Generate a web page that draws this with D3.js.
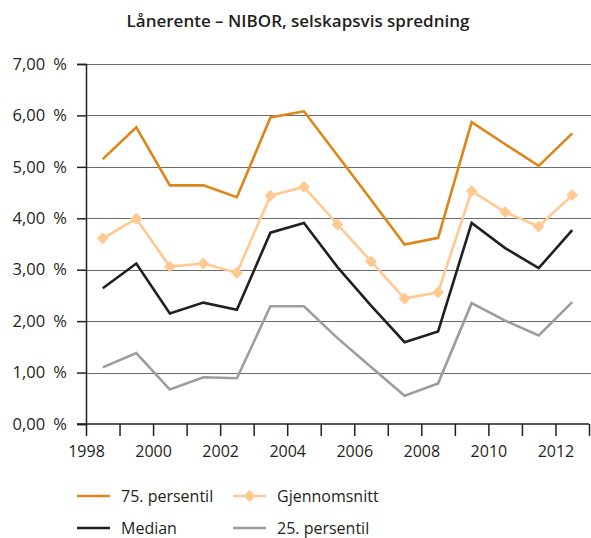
<!DOCTYPE html>
<html>
<head>
<meta charset="utf-8">
<script src="https://cdn.jsdelivr.net/npm/d3@7"></script>
<style>
  body { margin: 0; background: #fff; }
  svg { display: block; font-family: "Open Sans", sans-serif; }
</style>
</head>
<body>
<svg id="chart" width="591" height="538"></svg>
<script>
// data: one point per year, plotted in the middle of the year
const years = [1998, 1999, 2000, 2001, 2002, 2003, 2004, 2005, 2006, 2007, 2008, 2009, 2010, 2011, 2012];
const p75    = [5.15, 5.77, 4.64, 4.64, 4.41, 5.96, 6.08, 5.22, 4.36, 3.49, 3.62, 5.87, 5.44, 5.02, 5.65];
const mean   = [3.61, 3.99, 3.06, 3.12, 2.94, 4.44, 4.61, 3.88, 3.16, 2.44, 2.56, 4.53, 4.12, 3.84, 4.45];
const median = [2.64, 3.12, 2.15, 2.36, 2.22, 3.72, 3.91, 3.05, 2.30, 1.59, 1.80, 3.91, 3.42, 3.03, 3.77];
const p25    = [1.10, 1.38, 0.67, 0.91, 0.89, 2.29, 2.29, 1.67, 1.11, 0.55, 0.79, 2.35, 2.01, 1.72, 2.37];

const yTicks = [0, 1, 2, 3, 4, 5, 6, 7];
const xLabels = [1998, 2000, 2002, 2004, 2006, 2008, 2010, 2012];

const series = [
  {name: "75. persentil", values: p75,    color: "#DE8519", marker: false},
  {name: "Gjennomsnitt",  values: mean,   color: "#FFC991", marker: true},
  {name: "Median",        values: median, color: "#231F20", marker: false},
  {name: "25. persentil", values: p25,    color: "#9D9D9D", marker: false}
];

const svg = d3.select("#chart");
const margin = {top: 64, left: 86, bottom: 114};
const plotW = 503, plotH = 538 - margin.top - margin.bottom;

const x = d3.scaleLinear().domain([1998, 2013]).range([margin.left, margin.left + plotW]);
const y = d3.scaleLinear().domain([0, 7]).range([margin.top + plotH, margin.top]);

// title
svg.append("text")
  .attr("x", 298).attr("y", 27)
  .attr("text-anchor", "middle")
  .style("font-size", "17px").style("font-weight", 600).attr("fill", "#231F20")
  .text("Lånerente – NIBOR, selskapsvis spredning");

// gridlines
svg.append("g").selectAll("line")
  .data(yTicks.filter(d => d > 0))
  .join("line")
  .attr("x1", margin.left).attr("x2", 591)
  .attr("y1", d => Math.round(y(d)) + 0.5).attr("y2", d => Math.round(y(d)) + 0.5)
  .attr("stroke", "#6a6a6a").attr("stroke-width", 1.2);

// y axis
const yAxis = svg.append("g")
  .attr("transform", `translate(${margin.left},0)`)
  .call(d3.axisLeft(y).tickValues(yTicks).tickSize(9).tickPadding(10)
    .tickFormat(d => d3.format(".2f")(d).replace(".", ",") + "\u2002%"));

// x axis
const xAxis = svg.append("g")
  .attr("transform", `translate(0,${y(0)})`)
  .call(d3.axisBottom(x).tickValues(d3.range(1998, 2014)).tickSize(12).tickPadding(10)
    .tickFormat(d => xLabels.includes(d) ? d : ""));

[yAxis, xAxis].forEach(a => {
  a.select(".domain").attr("stroke", "#231F20").attr("stroke-width", 1.5);
  a.selectAll(".tick line").attr("stroke", "#231F20").attr("stroke-width", 1.5);
  a.selectAll(".tick text").attr("fill", "#231F20").style("font-size", "16px")
    .style("font-family", "'Open Sans', sans-serif");
});
yAxis.selectAll(".tick text").style("font-size", "16.5px");
xAxis.select(".domain").attr("d", `M${margin.left - 9},0H${margin.left + plotW}`);

// lines
const line = d3.line()
  .x((d, i) => x(years[i] + 0.5))
  .y(d => y(d));

const drawOrder = [series[3], series[2], series[1], series[0]];
drawOrder.forEach(s => {
  svg.append("path")
    .datum(s.values)
    .attr("fill", "none")
    .attr("stroke", s.color)
    .attr("stroke-width", 2.6)
    .attr("stroke-linejoin", "miter")
    .attr("d", line);
  if (s.marker) {
    svg.append("g").selectAll("path")
      .data(s.values)
      .join("path")
      .attr("transform", (d, i) => `translate(${x(years[i] + 0.5)},${y(d)})`)
      .attr("d", d3.symbol(d3.symbolDiamond2, 90))
      .attr("fill", s.color);
  }
});

// legend
const legendPos = [
  {x: 77, y: 496}, {x: 233, y: 496},
  {x: 77, y: 528}, {x: 233, y: 528}
];
series.forEach((s, i) => {
  const g = svg.append("g").attr("transform", `translate(${legendPos[i].x},${legendPos[i].y})`);
  g.append("line").attr("x1", 0).attr("x2", 33).attr("y1", 0).attr("y2", 0)
    .attr("stroke", s.color).attr("stroke-width", 2.6);
  if (s.marker) {
    g.append("path").attr("transform", "translate(16.5,0)")
      .attr("d", d3.symbol(d3.symbolDiamond2, 90)).attr("fill", s.color);
  }
  g.append("text").attr("x", 44).attr("y", 0).attr("dy", "0.35em")
    .style("font-size", "16px").attr("fill", "#231F20")
    .text(s.name);
});
</script>
</body>
</html>
